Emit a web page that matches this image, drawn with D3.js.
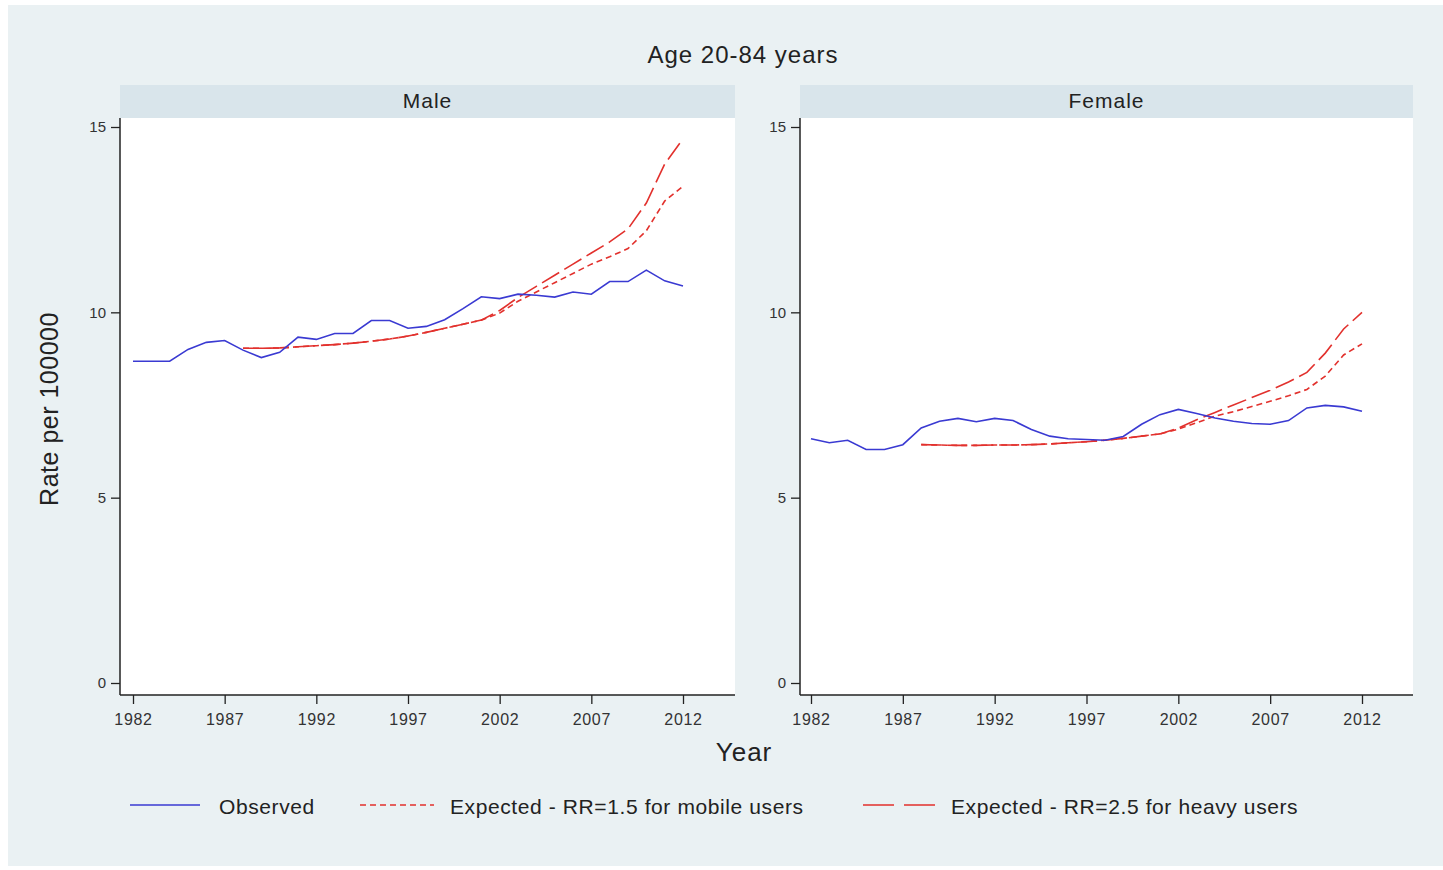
<!DOCTYPE html>
<html>
<head>
<meta charset="utf-8">
<script src="https://cdn.jsdelivr.net/npm/d3@7"></script>
<style>
  html, body { margin: 0; padding: 0; background: #ffffff; }
  svg { display: block; font-family: "Liberation Sans", Arial, sans-serif; }
</style>
</head>
<body>
<svg id="chart" width="1443" height="870"></svg>
<script>
// Years and tick labels
const years = d3.range(1982, 2013);
const expYears = d3.range(1988, 2013);
const xTicks = [1982, 1987, 1992, 1997, 2002, 2007, 2012];
const yTicks = [0, 5, 10, 15];

// Male rates per 100000
const maleObserved = [8.68, 8.68, 8.68, 9.0, 9.19, 9.24, 8.98, 8.78, 8.92, 9.33,
  9.27, 9.43, 9.43, 9.78, 9.78, 9.57, 9.62, 9.8, 10.1, 10.42,
  10.37, 10.49, 10.46, 10.41, 10.55, 10.49, 10.83, 10.83, 11.14, 10.85, 10.71];
const maleRR15 = [9.03, 9.03, 9.04, 9.07, 9.10, 9.13, 9.17, 9.22, 9.28, 9.36,
  9.46, 9.57, 9.68, 9.79, 9.98, 10.3, 10.55, 10.8, 11.05, 11.3,
  11.5, 11.72, 12.2, 13.0, 13.4];
const maleRR25 = [9.03, 9.03, 9.04, 9.07, 9.10, 9.13, 9.17, 9.22, 9.28, 9.36,
  9.46, 9.57, 9.68, 9.79, 10.05, 10.4, 10.7, 11.0, 11.3, 11.6,
  11.9, 12.25, 12.95, 14.0, 14.68];

// Female rates per 100000
const femaleObserved = [6.59, 6.48, 6.55, 6.30, 6.30, 6.43, 6.88, 7.06, 7.14, 7.05,
  7.14, 7.08, 6.84, 6.66, 6.59, 6.57, 6.55, 6.65, 6.98, 7.24,
  7.38, 7.27, 7.15, 7.06, 7.0, 6.98, 7.08, 7.42, 7.49, 7.45, 7.33];
const femaleRR15 = [6.43, 6.42, 6.41, 6.41, 6.42, 6.42, 6.43, 6.45, 6.48, 6.51,
  6.55, 6.6, 6.66, 6.72, 6.85, 7.02, 7.2, 7.32, 7.46, 7.6,
  7.75, 7.92, 8.28, 8.85, 9.15];
const femaleRR25 = [6.43, 6.42, 6.41, 6.41, 6.42, 6.42, 6.43, 6.45, 6.48, 6.51,
  6.55, 6.6, 6.66, 6.72, 6.88, 7.1, 7.3, 7.5, 7.7, 7.9,
  8.12, 8.38, 8.9, 9.55, 10.0];

const panelNames = ["Male", "Female"];
const legendLabels = ["Observed", "Expected - RR=1.5 for mobile users", "Expected - RR=2.5 for heavy users"];

const colBlue = "#3a3ad2";
const colRed = "#e2312d";
const dashShort = "6,4";
const dashLong = "20,6";

const panels = [
  { name: panelNames[0], obs: maleObserved, rr15: maleRR15, rr25: maleRR25, left: 120, right: 735, x0: 133, x1: 683 },
  { name: panelNames[1], obs: femaleObserved, rr15: femaleRR15, rr25: femaleRR25, left: 800, right: 1413, x0: 811, x1: 1362 }
];

const svg = d3.select("#chart");

// page background
svg.append("rect").attr("x", 8).attr("y", 5).attr("width", 1435).attr("height", 861).attr("fill", "#eaf1f3");

// main title
svg.append("text").attr("x", 743).attr("y", 63).attr("text-anchor", "middle")
  .attr("font-size", 24).attr("letter-spacing", 1).attr("fill", "#222").text("Age 20-84 years");

const plotTop = 118, plotBottom = 695;
const y = d3.scaleLinear().domain([0, 15]).range([683, 127]);

panels.forEach(p => {
  const g = svg.append("g");
  const x = d3.scaleLinear().domain([1982, 2012]).range([p.x0, p.x1]);

  // strip header
  g.append("rect").attr("x", p.left).attr("y", 85).attr("width", p.right - p.left).attr("height", 33).attr("fill", "#d9e5eb");
  g.append("text").attr("x", (p.left + p.right) / 2).attr("y", 108).attr("text-anchor", "middle")
    .attr("font-size", 21).attr("letter-spacing", 1).attr("fill", "#222").text(p.name);

  // plot region
  g.append("rect").attr("x", p.left).attr("y", plotTop).attr("width", p.right - p.left).attr("height", plotBottom - plotTop).attr("fill", "#ffffff");

  // axes
  const yAxis = d3.axisLeft(y).tickValues(yTicks).tickSize(9).tickPadding(5).tickFormat(d3.format("d"));
  const ya = g.append("g").attr("transform", `translate(${p.left},0)`).call(yAxis);
  ya.select(".domain").attr("d", `M0,${plotBottom}V${plotTop}`).attr("stroke", "#222").attr("stroke-width", 1.5);
  ya.selectAll(".tick line").attr("stroke", "#222").attr("stroke-width", 1.3);
  ya.selectAll(".tick text").attr("font-size", 15).attr("fill", "#333").attr("font-family", "Liberation Sans, Arial, sans-serif");

  const xAxis = d3.axisBottom(x).tickValues(xTicks).tickSize(9).tickPadding(10).tickFormat(d3.format("d"));
  const xa = g.append("g").attr("transform", `translate(0,${plotBottom})`).call(xAxis);
  xa.select(".domain").attr("d", `M${p.left},0H${p.right}`).attr("stroke", "#222").attr("stroke-width", 1.5);
  xa.selectAll(".tick line").attr("stroke", "#222").attr("stroke-width", 1.3);
  xa.selectAll(".tick text").attr("font-size", 16).attr("letter-spacing", 0.7).attr("fill", "#333").attr("font-family", "Liberation Sans, Arial, sans-serif");

  const line = d3.line().x(d => x(d[0])).y(d => y(d[1]));
  const obsPts = years.map((yr, i) => [yr, p.obs[i]]);
  const rr15Pts = expYears.map((yr, i) => [yr, p.rr15[i]]);
  const rr25Pts = expYears.map((yr, i) => [yr, p.rr25[i]]);

  g.append("path").attr("d", line(rr15Pts)).attr("fill", "none").attr("stroke", colRed)
    .attr("stroke-width", 1.6).attr("stroke-dasharray", dashShort);
  g.append("path").attr("d", line(rr25Pts)).attr("fill", "none").attr("stroke", colRed)
    .attr("stroke-width", 1.6).attr("stroke-dasharray", dashLong);
  g.append("path").attr("d", line(obsPts)).attr("fill", "none").attr("stroke", colBlue)
    .attr("stroke-width", 1.6);
});

// axis titles
svg.append("text").attr("transform", "translate(58,409) rotate(-90)").attr("text-anchor", "middle")
  .attr("font-size", 25).attr("letter-spacing", 0.5).attr("fill", "#222").text("Rate per 100000");
svg.append("text").attr("x", 744).attr("y", 761).attr("text-anchor", "middle")
  .attr("font-size", 26).attr("letter-spacing", 1).attr("fill", "#222").text("Year");

// legend
const legendItems = [
  { label: legendLabels[0], dash: null, x1: 130, x2: 200, tx: 219 },
  { label: legendLabels[1], dash: dashShort, x1: 360, x2: 434, tx: 450 },
  { label: legendLabels[2], dash: "31,10", x1: 863, x2: 935, tx: 951 }
];
legendItems.forEach((it, i) => {
  svg.append("line").attr("x1", it.x1).attr("x2", it.x2).attr("y1", 805).attr("y2", 805)
    .attr("stroke", i === 0 ? colBlue : colRed).attr("stroke-width", 1.6)
    .attr("stroke-dasharray", it.dash);
  svg.append("text").attr("x", it.tx).attr("y", 814).attr("font-size", 21).attr("letter-spacing", 0.6)
    .attr("fill", "#222").text(it.label);
});
</script>
</body>
</html>
